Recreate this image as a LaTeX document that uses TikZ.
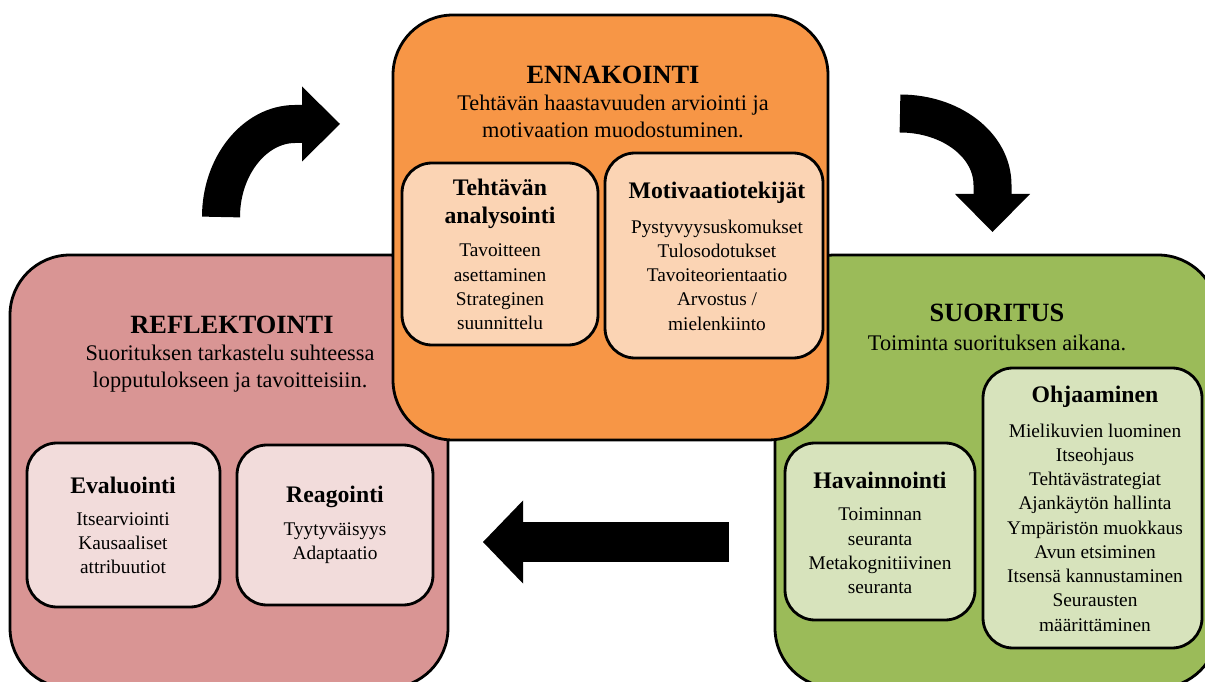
\documentclass[tikz,border=0pt]{standalone}
\usepackage{fontspec}
\setmainfont{Liberation Serif}
\usetikzlibrary{arrows.meta}

\begin{document}
\begin{tikzpicture}[
    every node/.style={font=\rmfamily},
]

\definecolor{ennfill}{HTML}{F79646}
\definecolor{ennpart}{HTML}{FBD4B4}
\definecolor{reffill}{HTML}{D99594}
\definecolor{refpart}{HTML}{F2DCDB}
\definecolor{suofill}{HTML}{9BBB59}
\definecolor{suopart}{HTML}{D7E3BC}

% ================================================================
%  GEOMETRY, 1 px of the sketch = 0.02 cm, origin bottom left.
%
%  Three phases in a cycle, clockwise:
%     ennakointi   top centre, drawn last (it overlaps both others)
%     suoritus     right, runs off the right and bottom edges
%     reflektointi left, runs off the bottom edge
%  Each phase: bold title, a short description, then its parts as
%  lighter rounded boxes.  Fat black arrows between the phases.
% ================================================================

\tikzset{
  phase/.style={draw=black, line width=1.6pt, rounded corners=1.2cm},
  part/.style={draw=black, line width=1.6pt, rounded corners=0.6cm},
  phasetitle/.style={font=\fontsize{15}{18}\selectfont\bfseries},
  phasetext/.style={font=\fontsize{12.7}{15.3}\selectfont, align=center},
  parttitle/.style={font=\fontsize{13.5}{16}\selectfont\bfseries,
                    align=center},
  partitems/.style={font=\fontsize{11}{13.8}\selectfont, align=center},
  cyclearrow/.style={draw=black, line width=0.76cm,
    -{Triangle[length=0.76cm, width=1.5cm, line width=0pt]}},
}

\useasboundingbox (0, 0) rectangle (24.1, 13.62);
\clip (0, 0) rectangle (24.1, 13.62);

% ---------------------------------------------------------------- reflektointi
\node[phase, fill=reffill, minimum width=8.76cm, minimum height=8.66cm]
    (refl) at (4.58, 4.19) {};
\node[phasetitle] (reflT) at (4.64, 7.12) {REFLEKTOINTI};
\node[phasetext] (reflD) at (4.60, 6.25)
    {Suorituksen tarkastelu suhteessa\\lopputulokseen ja tavoitteisiin.};

\node[part, fill=refpart, minimum width=3.86cm, minimum height=3.28cm]
    (eval) at (2.47, 3.12) {};
\node[parttitle] (evalT) at (2.46, 3.92) {Evaluointi};
\node[partitems] (evalI) at (2.46, 2.76)
    {Itsearviointi\\Kausaaliset\\attribuutiot};

\node[part, fill=refpart, minimum width=3.92cm, minimum height=3.20cm]
    (reag) at (6.70, 3.12) {};
\node[parttitle] (reagT) at (6.70, 3.68) {Reagointi};
\node[partitems] (reagI) at (6.70, 2.75) {Tyytyväisyys\\Adaptaatio};

% ---------------------------------------------------------------- suoritus
\node[phase, fill=suofill, minimum width=8.86cm, minimum height=8.66cm]
    (suor) at (19.93, 4.19) {};
\node[phasetitle] (suorT) at (19.94, 7.36) {SUORITUS};
\node[phasetext] (suorD) at (19.94, 6.76) {Toiminta suorituksen aikana.};

\node[part, fill=suopart, minimum width=3.80cm, minimum height=3.54cm]
    (hava) at (17.60, 2.99) {};
\node[parttitle] (havaT) at (17.60, 4.02) {Havainnointi};
\node[partitems] (havaI) at (17.60, 2.60)
    {Toiminnan\\seuranta\\Metakognitiivinen\\seuranta};

\node[part, fill=suopart, minimum width=4.38cm, minimum height=5.60cm]
    (ohja) at (21.85, 3.46) {};
\node[parttitle] (ohjaT) at (21.90, 5.68) {Ohjaaminen};
\node[partitems] (ohjaI) at (21.90, 3.07)
    {Mielikuvien luominen\\Itseohjaus\\Tehtävästrategiat\\
     Ajankäytön hallinta\\Ympäristön muokkaus\\Avun etsiminen\\
     Itsensä kannustaminen\\Seurausten\\määrittäminen};

% ---------------------------------------------------------------- ennakointi
\node[phase, fill=ennfill, minimum width=8.70cm, minimum height=8.50cm]
    (enna) at (12.21, 9.07) {};
\node[phasetitle] (ennaT) at (12.26, 12.12) {ENNAKOINTI};
\node[phasetext] (ennaD) at (12.26, 11.29)
    {Tehtävän haastavuuden arviointi ja\\motivaation muodostuminen.};

\node[part, fill=ennpart, minimum width=3.92cm, minimum height=3.64cm]
    (teht) at (10.00, 8.54) {};
\node[parttitle] (tehtT) at (10.00, 9.54) {Tehtävän\\analysointi};
\node[partitems] (tehtI) at (10.00, 7.88)
    {Tavoitteen\\asettaminen\\Strateginen\\suunnittelu};

\node[part, fill=ennpart, minimum width=4.36cm, minimum height=4.10cm]
    (moti) at (14.28, 8.51) {};
\node[parttitle] (motiT) at (14.34, 9.76) {Motivaatiotekijät};
\node[partitems] (motiI) at (14.34, 8.12)
    {Pystyvyysuskomukset\\Tulosodotukset\\Tavoiteorientaatio\\
     Arvostus /\\mielenkiinto};

% ---------------------------------------------------------------- arrows
\coordinate (upS) at (4.42, 9.28);
\coordinate (upB) at (5.90, 11.14);
\coordinate (upE) at (6.80, 11.14);
\draw[cyclearrow] (upS) .. controls +(0, 1.03) and +(-0.80, 0) .. (upB)
    -- (upE);

\coordinate (downS) at (18.00, 11.35);
\coordinate (downB) at (19.85, 9.92);
\coordinate (downE) at (19.85, 8.98);
\draw[cyclearrow] (downS) .. controls +(1.02, 0) and +(0, 0.80) .. (downB)
    -- (downE);

\coordinate (backS) at (14.58, 2.78);
\coordinate (backE) at (9.66, 2.78);
\draw[cyclearrow, line width=0.8cm,
      -{Triangle[length=0.8cm, width=1.66cm, line width=0pt]}]
    (backS) -- (backE);

\end{tikzpicture}
\end{document}
